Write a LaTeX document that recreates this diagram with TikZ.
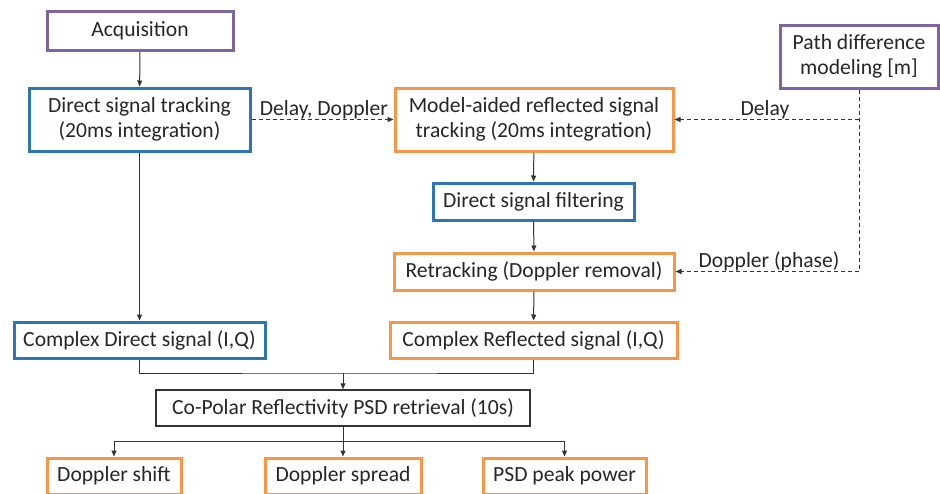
\documentclass[tikz,border=0pt]{standalone}
\usepackage{fontspec}
\setmainfont{Carlito}
\usetikzlibrary{arrows.meta}
\definecolor{cpurple}{RGB}{128,100,162}
\definecolor{cblue}{RGB}{46,117,182}
\definecolor{corange}{RGB}{247,150,70}
\begin{document}
\begin{tikzpicture}[x=1pt,y=-1pt,
  box/.style={draw, line width=3pt, fill=white, inner sep=0pt, align=center, font=\fontsize{21.6}{25}\selectfont, text=black!85},
  pbox/.style={box, draw=cpurple},
  bbox/.style={box, draw=cblue},
  obox/.style={box, draw=corange},
  kbox/.style={box, draw=black!80, line width=1.5pt},
  conn/.style={draw=black!80, line width=1pt, -{Triangle[width=5pt,length=6pt]}},
  plain/.style={draw=black!80, line width=1pt},
  dconn/.style={draw=black!80, line width=1pt, dash pattern=on 4pt off 3pt, -{Triangle[width=5pt,length=6pt]}},
  dplain/.style={draw=black!80, line width=1pt, dash pattern=on 4pt off 3pt},
  lab/.style={font=\fontsize{21.6}{25}\selectfont, text=black!85, inner sep=0pt}
]
\useasboundingbox (0,0) rectangle (940,493);
\node[pbox, minimum width=186pt, minimum height=39pt] (acq) at (140,31) {Acquisition};
\node[bbox, minimum width=221pt, minimum height=63pt] (dst) at (139.5,119.5) {Direct signal tracking\\(20ms integration)};
\node[obox, minimum width=278pt, minimum height=63pt] (mar) at (534,119.5) {Model-aided reflected signal\\tracking (20ms integration)};
\node[pbox, minimum width=158pt, minimum height=63pt] (pdm) at (859,56.5) {Path difference\\modeling [m]};
\node[bbox, minimum width=201pt, minimum height=37pt] (dsf) at (533.5,201.5) {Direct signal filtering};
\node[obox, minimum width=280pt, minimum height=37pt] (ret) at (534,271.5) {Retracking (Doppler removal)};
\node[bbox, minimum width=251pt, minimum height=36pt] (cds) at (139.5,340) {Complex Direct signal (I,Q)};
\node[obox, minimum width=287pt, minimum height=36pt] (crs) at (533.5,340) {Complex Reflected signal (I,Q)};
\node[kbox, minimum width=374pt, minimum height=36pt] (cop) at (343,408) {Co-Polar Reflectivity PSD retrieval (10s)};
\node[obox, minimum width=134pt, minimum height=36pt] (dsh) at (114,476) {Doppler shift};
\node[obox, minimum width=156pt, minimum height=36pt] (dsp) at (343,476) {Doppler spread};
\node[obox, minimum width=163pt, minimum height=36pt] (psd) at (564.5,476) {PSD peak power};

\coordinate (dl) at (859,119.5);
\coordinate (dp) at (859,271.5);
\coordinate (mg) at (343,373);
\coordinate (sp) at (343,441);

\draw[conn] (acq) -- (dst);
\draw[dconn] (dst) -- node[lab, above=0.5pt, pos=0.51] {Delay, Doppler} (mar);
\draw[dplain] (pdm.south) -- (dp);
\draw[dconn] (dl) -- node[lab, above=0.5pt, pos=0.51] {Delay} (mar);
\draw[dconn] (dp) -- node[lab, above=0.5pt, pos=0.49] {Doppler (phase)} (ret);
\draw[conn] (mar) -- (dsf);
\draw[conn] (dsf) -- (ret);
\draw[conn] (ret) -- (crs);
\draw[conn] (dst) -- (cds);
\draw[plain] (cds.south) |- (mg) -| (crs.south);
\draw[conn] (mg) -- (cop);
\draw[conn] (cop) -- (dsp);
\draw[conn] (sp) -| (dsh.north);
\draw[conn] (sp) -| (psd.north);
\end{tikzpicture}
\end{document}
